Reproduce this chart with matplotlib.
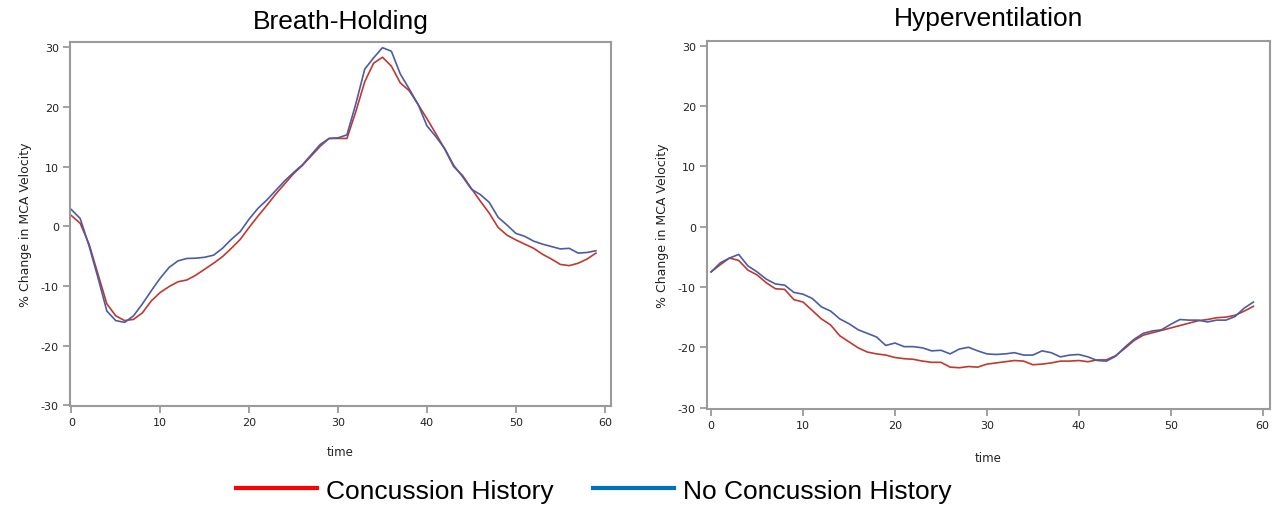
import numpy as np
import matplotlib.pyplot as plt
from matplotlib.lines import Line2D

plt.rcParams["axes.unicode_minus"] = False

time = np.arange(60)

# Breath-holding: % change in MCA velocity
bh_concussion = [1.8, 0.5, -3.0, -8.0, -13.0, -15.0, -15.8, -15.6, -14.5, -12.5,
                 -11.1, -10.1, -9.3, -9.0, -8.2, -7.2, -6.2, -5.1, -3.7, -2.2,
                 -0.2, 1.7, 3.5, 5.4, 7.1, 8.8, 10.2, 11.8, 13.4, 14.7,
                 14.7, 14.7, 19.2, 24.2, 27.3, 28.3, 26.8, 24.0, 22.7, 20.4,
                 18.0, 15.5, 12.9, 10.0, 8.5, 6.3, 4.2, 2.2, -0.2, -1.5,
                 -2.3, -3.0, -3.7, -4.7, -5.5, -6.4, -6.6, -6.2, -5.5, -4.5]
bh_no_concussion = [2.8, 1.3, -3.3, -8.6, -14.2, -15.8, -16.1, -15.0, -13.0, -10.8,
                    -8.7, -6.9, -5.8, -5.4, -5.35, -5.2, -4.85, -3.7, -2.2, -0.9,
                    1.2, 3.0, 4.4, 6.0, 7.6, 9.0, 10.3, 12.0, 13.7, 14.7,
                    14.8, 15.3, 20.5, 26.3, 28.2, 29.9, 29.3, 25.5, 23.0, 20.4,
                    16.8, 15.0, 13.0, 10.2, 8.3, 6.2, 5.3, 4.0, 1.5, 0.2,
                    -1.2, -1.7, -2.5, -3.0, -3.4, -3.8, -3.7, -4.5, -4.4, -4.1]

# Hyperventilation: % change in MCA velocity
hv_concussion = [-7.5, -6.3, -5.2, -5.6, -7.2, -8.0, -9.3, -10.3, -10.4, -12.1,
                 -12.5, -13.9, -15.3, -16.3, -18.1, -19.1, -20.1, -20.8, -21.1, -21.3,
                 -21.7, -21.9, -22.0, -22.3, -22.5, -22.5, -23.3, -23.4, -23.2, -23.3,
                 -22.8, -22.6, -22.4, -22.2, -22.3, -22.9, -22.8, -22.6, -22.3, -22.3,
                 -22.2, -22.4, -22.1, -22.1, -21.4, -20.2, -18.9, -18.0, -17.6, -17.2,
                 -16.8, -16.4, -16.0, -15.6, -15.4, -15.1, -15.0, -14.7, -14.0, -13.2]
hv_no_concussion = [-7.5, -6.0, -5.2, -4.6, -6.5, -7.5, -8.7, -9.5, -9.7, -10.9,
                    -11.2, -11.9, -13.3, -14.0, -15.3, -16.1, -17.1, -17.7, -18.3, -19.7,
                    -19.3, -19.9, -19.9, -20.1, -20.6, -20.5, -21.1, -20.3, -20.0, -20.6,
                    -21.1, -21.2, -21.1, -20.9, -21.3, -21.3, -20.6, -20.9, -21.6, -21.3,
                    -21.2, -21.6, -22.2, -22.3, -21.5, -20.0, -18.7, -17.7, -17.3, -17.1,
                    -16.2, -15.4, -15.5, -15.5, -15.8, -15.5, -15.5, -14.9, -13.5, -12.5]

yticks = [-30, -20, -10, 0, 10, 20, 30]
xticks = [0, 10, 20, 30, 40, 50, 60]

red = "#c0392e"
blue = "#4a5ca6"
spine_col = "#9a9a9a"

fig = plt.figure(figsize=(12.81, 5.10), dpi=100)
ax1 = fig.add_axes([0.0546, 0.202, 0.4224, 0.7137])
ax2 = fig.add_axes([0.5519, 0.196, 0.4395, 0.7216])

panels = [
    (ax1, "Breath-Holding", bh_concussion, bh_no_concussion, (-0.15, 60.7), (-30.1, 30.85), 0.981, 13),
    (ax2, "Hyperventilation", hv_concussion, hv_no_concussion, (-0.45, 60.8), (-30.25, 30.8), 0.986, 15),
]

for ax, title, conc, noconc, xl, yl, ty, xpad in panels:
    ax.plot(time, conc, color=red, lw=1.2)
    ax.plot(time, noconc, color=blue, lw=1.2)
    ax.set_xlim(*xl)
    ax.set_ylim(*yl)
    ax.set_xticks(xticks)
    ax.set_yticks(yticks)
    for s in ax.spines.values():
        s.set_color(spine_col)
        s.set_linewidth(1.5)
    ax.tick_params(direction="out", length=5, width=1.3, color=spine_col,
                   labelsize=8, labelcolor="#222222", pad=3)
    ax.set_xlabel("time", fontsize=8.5, color="#222222", labelpad=xpad)
    ax.set_ylabel("% Change in MCA Velocity", fontsize=9, color="#222222", labelpad=6)
    pos = ax.get_position()
    fig.text((pos.x0 + pos.x1) / 2, ty, title,
             ha="center", va="top", fontsize=19, family="Liberation Sans")

handles = [Line2D([], [], color="#ff0000", lw=3),
           Line2D([], [], color="#0070c0", lw=3)]
fig.legend(handles, ["Concussion History", "No Concussion History"],
           loc="center", bbox_to_anchor=(0.4637, 0.036), ncol=2, frameon=False,
           prop={"family": "Liberation Sans", "size": 19},
           handlelength=3.05, handletextpad=0.35, columnspacing=1.5,
           borderpad=0, borderaxespad=0)

fig.savefig("out.png", dpi=100)
